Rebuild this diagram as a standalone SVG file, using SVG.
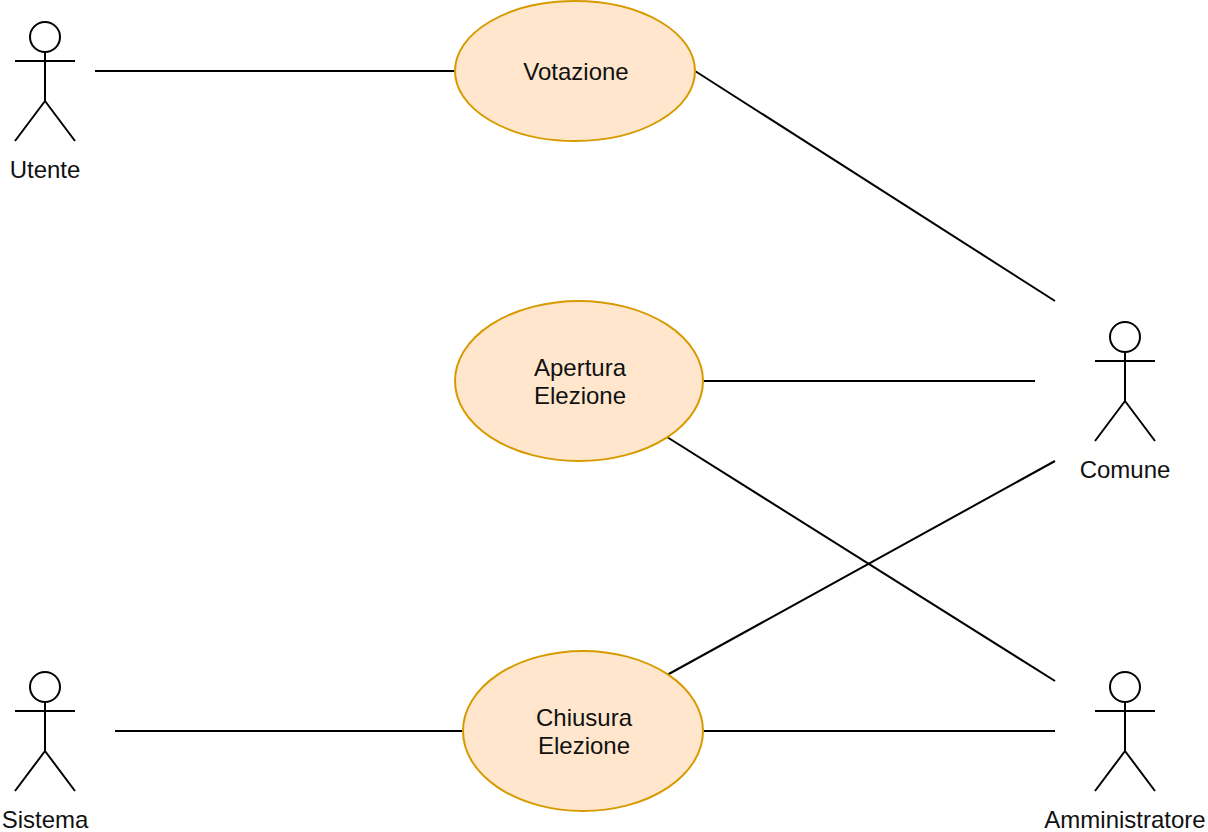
<svg xmlns="http://www.w3.org/2000/svg" width="1208" height="832" viewBox="0 0 1208 832">
<style>
.bg{fill:#fff}
.uc{fill:#ffe6cc;stroke:#d79b00;stroke-width:2}
.ln{fill:none;stroke:#000;stroke-width:2}
.actor{fill:#fff;stroke:#000;stroke-width:2}
text{font-family:"Liberation Sans",Arial,sans-serif;font-size:24px;fill:#111;text-anchor:middle}
</style>
<defs>
<g id="stick"><circle class="actor" cx="0" cy="16" r="15"/><path class="ln" d="M0 31V80M-30 40H30M0 80L-30 120M0 80L30 120"/></g>
</defs>
<rect class="bg" width="1208" height="832"/>
<g id="connectors">
<path class="ln" d="M95 71H455"/>
<path class="ln" d="M695 71L1055 301"/>
<path class="ln" d="M703 381H1035"/>
<path class="ln" d="M667 437L1055 681"/>
<path class="ln" d="M667 675L1055 461"/>
<path class="ln" d="M115 731H463"/>
<path class="ln" d="M703 731H1055"/>
</g>
<g id="utente"><use href="#stick" x="45" y="21"/><text x="45" y="178">Utente</text></g>
<g id="comune"><use href="#stick" x="1125" y="321"/><text x="1125" y="478">Comune</text></g>
<g id="sistema"><use href="#stick" x="45" y="671"/><text x="45" y="828">Sistema</text></g>
<g id="amministratore"><use href="#stick" x="1125" y="671"/><text x="1125" y="828">Amministratore</text></g>
<g id="votazione"><ellipse class="uc" cx="575" cy="71" rx="120" ry="70"/><text x="576" y="80">Votazione</text></g>
<g id="apertura"><ellipse class="uc" cx="579" cy="381" rx="124" ry="80"/><text x="580" y="376">Apertura</text><text x="580" y="404">Elezione</text></g>
<g id="chiusura"><ellipse class="uc" cx="583" cy="731" rx="120" ry="80"/><text x="584" y="726">Chiusura</text><text x="584" y="754">Elezione</text></g>
</svg>
